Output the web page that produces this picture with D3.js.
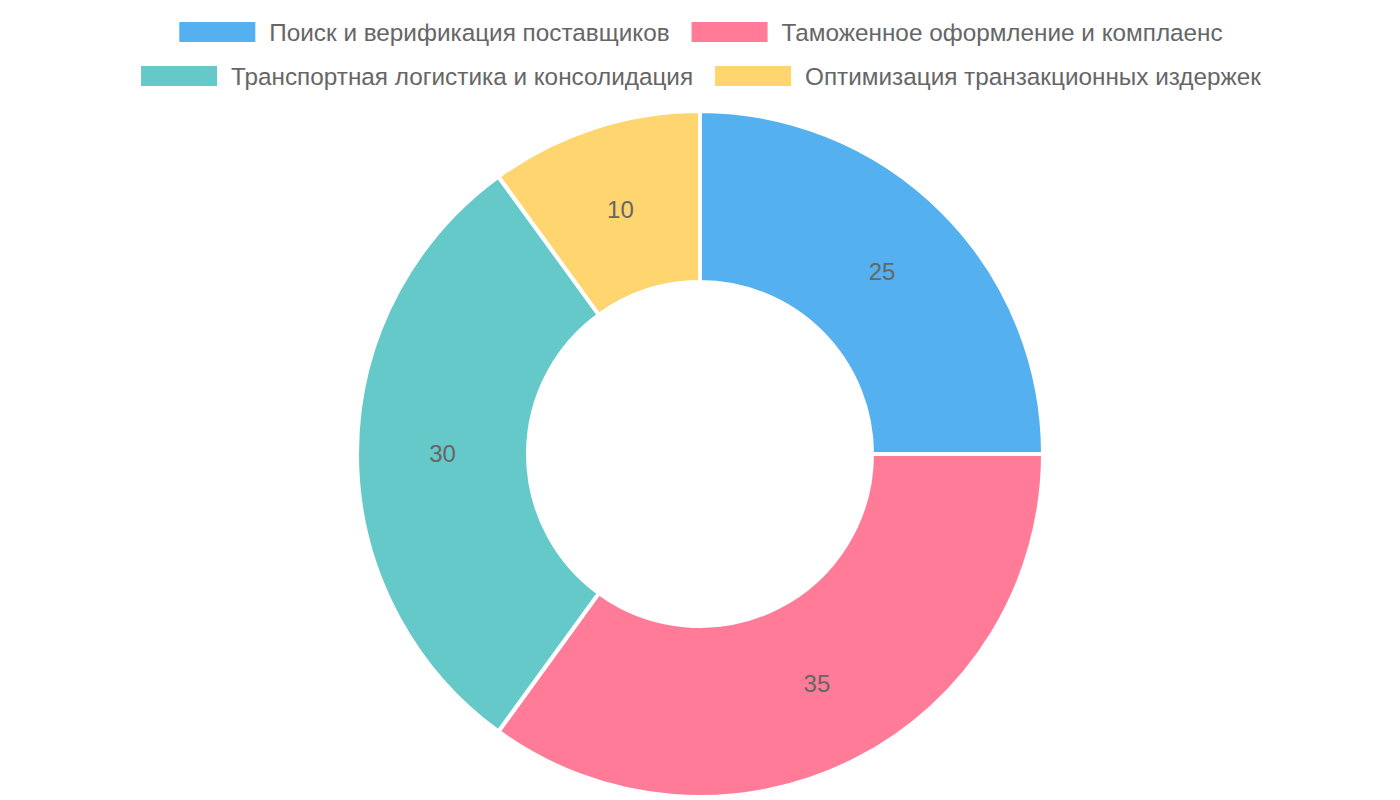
<!DOCTYPE html>
<html>
<head>
<meta charset="utf-8">
<script src="https://cdn.jsdelivr.net/npm/d3@7"></script>
<style>
  body { margin: 0; background: #fff; }
  svg { display: block; }
</style>
</head>
<body>
<svg id="chart" width="1400" height="800"></svg>
<script>
// data
var categories = [
    "Поиск и верификация поставщиков",
    "Таможенное оформление и комплаенс",
    "Транспортная логистика и консолидация",
    "Оптимизация транзакционных издержек"
];
var values = [25, 35, 30, 10];
var colors = ["rgb(84,176,238)", "rgb(255,123,151)", "rgb(102,201,201)", "rgb(255,213,112)"];
var legendRows = [[0, 1], [2, 3]];

var svg = d3.select("#chart");
var font = "'Liberation Sans', Arial, sans-serif";

// ---------- legend ----------
var boxW = 76, boxH = 20, textGap = 14, itemGap = 22;
var rowY = [32, 76];

legendRows.forEach(function(row, r){
    var g = svg.append("g");
    var x = 0;
    row.forEach(function(i){
        g.append("rect")
            .attr("x", x)
            .attr("y", rowY[r] - boxH / 2)
            .attr("width", boxW)
            .attr("height", boxH)
            .attr("fill", colors[i]);
        var t = g.append("text")
            .attr("x", x + boxW + textGap)
            .attr("y", rowY[r])
            .attr("dy", "0.35em")
            .attr("font-size", "24.3")
            .attr("font-family", font)
            .attr("fill", "#666")
            .text(categories[i]);
        x += boxW + textGap + t.node().getComputedTextLength() + itemGap;
    });
    var total = x - itemGap;
    g.attr("transform", "translate(" + (701 - total / 2) + ",0)");
});

// ---------- doughnut ----------
var cx = 700, cy = 454, outerR = 343, innerR = 172;

var pie = d3.pie().sort(null).value(function(d){ return d; });
var arc = d3.arc().innerRadius(innerR).outerRadius(outerR);

var chart = svg.append("g")
    .attr("transform", "translate(" + cx + "," + cy + ")");

var slices = chart.selectAll("g.slice")
    .data(pie(values))
    .enter().append("g")
    .attr("class", "slice");

slices.append("path")
    .attr("d", arc)
    .attr("fill", function(d, i){ return colors[i]; })
    .attr("stroke", "#fff")
    .attr("stroke-width", 4)
    .attr("stroke-linejoin", "bevel");

slices.append("text")
    .attr("transform", function(d){ return "translate(" + arc.centroid(d) + ")"; })
    .attr("text-anchor", "middle")
    .attr("dy", "0.35em")
    .attr("font-size", "24")
    .attr("font-family", font)
    .attr("fill", "#666")
    .text(function(d){ return d.data; });
</script>
</body>
</html>
